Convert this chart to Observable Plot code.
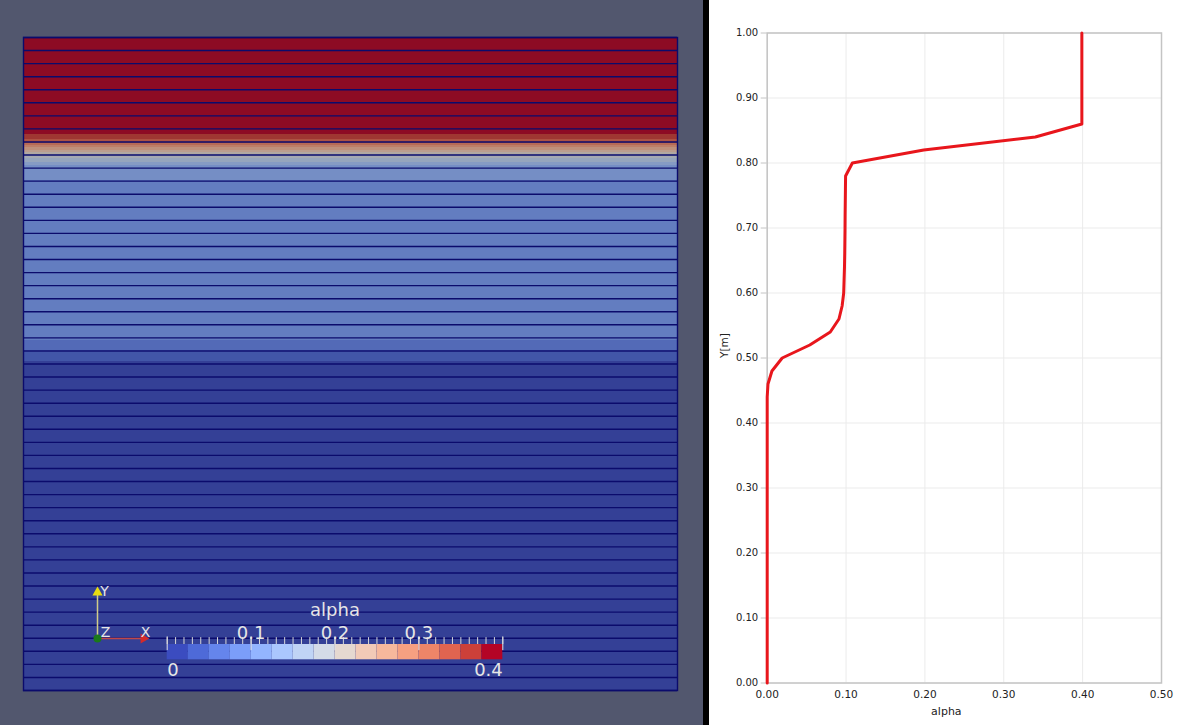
<!DOCTYPE html>
<html>
<head>
<meta charset="utf-8">
<script src="https://cdn.jsdelivr.net/npm/d3@7"></script>
<script src="https://cdn.jsdelivr.net/npm/@observablehq/plot@0.6"></script>
<style>
  html, body { margin: 0; padding: 0; background: #fff; }
  #root { position: relative; width: 1179px; height: 725px; overflow: hidden; }
  #left { position: absolute; left: 0; top: 0; width: 703px; height: 725px; background: #52576e; }
  #sep { position: absolute; left: 703px; top: 0; width: 6px; height: 725px; background: #000; }
  #right { position: absolute; left: 709px; top: 0; width: 470px; height: 725px; background: #fff; }
  .abs { position: absolute; }
  svg { display: block; }
</style>
</head>
<body>
<div id="root">
  <div id="left"></div>
  <div id="sep"></div>
  <div id="right"></div>
</div>
<script>
// ---------- data ----------
const yNodes = [
  0.00, 0.02, 0.04, 0.06, 0.08, 0.10, 0.12, 0.14, 0.16, 0.18,
  0.20, 0.22, 0.24, 0.26, 0.28, 0.30, 0.32, 0.34, 0.36, 0.38,
  0.40, 0.42, 0.44, 0.46, 0.48, 0.50, 0.52, 0.54, 0.56, 0.58,
  0.60, 0.62, 0.64, 0.66, 0.68, 0.70, 0.72, 0.74, 0.76, 0.78,
  0.80, 0.82, 0.84, 0.86, 0.88, 0.90, 0.92, 0.94, 0.96, 0.98, 1.00
];
const alphaValues = [
  0, 0, 0, 0, 0, 0, 0, 0, 0, 0,
  0, 0, 0, 0, 0, 0, 0, 0, 0, 0,
  0, 0, 0, 0.001, 0.006, 0.019, 0.054, 0.080, 0.091, 0.095,
  0.097, 0.0975, 0.098, 0.0983, 0.0985, 0.0987, 0.0988, 0.099, 0.0992, 0.0994,
  0.108, 0.1985, 0.340, 0.399, 0.399, 0.399, 0.399, 0.399, 0.399, 0.399, 0.399
];
const xTicks = [0, 0.1, 0.2, 0.3, 0.4, 0.5];
const yTicks = [0, 0.1, 0.2, 0.3, 0.4, 0.5, 0.6, 0.7, 0.8, 0.9, 1.0];
const colorDomain = [0, 0.4];
const colorBinCount = 16;
const colorTickLabels = [0.1, 0.2, 0.3];
const colorMinorStep = 0.01;
const triadAxes = [
  {name: "X", ux: 1, uy: 0},
  {name: "Y", ux: 0, uy: 1}
];

// ---------- styles ----------
const coolWarm = ["#3b4cc0","#4e6ad8","#6585ec","#7b9ef9","#93b5ff","#aac7fe","#c0d4f5","#d4dbe7",
                  "#e5d8d0","#f2cab7","#f7b89c","#f6a081","#ee8568","#e06450","#cc4039","#b40426"];
const shade = c => { const r = d3.rgb(c); return d3.rgb(r.r*0.74 + 8, r.g*0.74 + 8, r.b*0.74 + 8).formatHex(); };
const shaded = coolWarm.map(shade);
const binWidth = (colorDomain[1] - colorDomain[0]) / colorBinCount;
const thresholds = d3.range(1, colorBinCount).map(i => colorDomain[0] + i * binWidth);
const meshColor = "#0b0b6c";
const labelFont = "DejaVu Sans";
const pvText = "#e6e6e6";

const profile = yNodes.map((y, i) => ({y, alpha: alphaValues[i]}));
const alphaAt = d3.scaleLinear().domain(yNodes).range(alphaValues).clamp(true);

// ---------- left: rendered domain ----------
const leftPlot = Plot.plot({
  width: 703, height: 725,
  marginLeft: 23, marginRight: 26, marginTop: 37, marginBottom: 35,
  style: {background: "transparent"},
  x: {domain: [0, 1], axis: null},
  y: {domain: [0, 1], axis: null},
  color: {type: "threshold", domain: thresholds, range: shaded},
  marks: [
    Plot.raster({x1: 0, x2: 1, y1: 0, y2: 1, fill: (x, y) => alphaAt(y), imageRendering: "pixelated"}),
    Plot.ruleY(yNodes, {stroke: meshColor, strokeWidth: 1.4}),
    Plot.frame({stroke: meshColor, strokeWidth: 1.4})
  ]
});
document.getElementById("left").appendChild(leftPlot);

// ---------- colour bar ----------
const bins = d3.range(colorBinCount).map(i => ({x1: colorDomain[0] + i * binWidth, x2: colorDomain[0] + (i + 1) * binWidth}));
const minorTicks = d3.range(0, Math.round((colorDomain[1] - colorDomain[0]) / colorMinorStep) + 1).map(i => colorDomain[0] + i * colorMinorStep);
const majorTicks = [colorDomain[0], ...colorTickLabels, colorDomain[1]];
const fmt = d3.format("~g");
const cbar = Plot.plot({
  width: 410, height: 105,
  marginLeft: 36.7, marginRight: 37.7, marginTop: 59, marginBottom: 30.7,
  style: {background: "transparent", overflow: "visible"},
  x: {domain: colorDomain, axis: null},
  y: {domain: [0, 1], axis: null},
  color: {type: "threshold", domain: thresholds, range: coolWarm},
  marks: [
    Plot.rect(bins, {x1: "x1", x2: "x2", y1: 0, y2: 1, fill: d => (d.x1 + d.x2) / 2}),
    Plot.ruleX(minorTicks, {y1: 1, y2: 1.45, stroke: "#d8d8d8", strokeWidth: 1}),
    Plot.ruleX(majorTicks, {y1: 0.6, y2: 1.5, stroke: "#e0e0e0", strokeWidth: 1}),
    Plot.text(colorTickLabels, {x: d => d, y: 1, text: d => fmt(d), lineAnchor: "bottom", dy: -6, fill: pvText, fontSize: 18, fontFamily: labelFont}),
    Plot.text([colorDomain[0]], {x: d => d, y: 0, text: d => fmt(d), lineAnchor: "top", dy: 3, textAnchor: "start", fill: pvText, fontSize: 18, fontFamily: labelFont}),
    Plot.text([colorDomain[1]], {x: d => d, y: 0, text: d => fmt(d), lineAnchor: "top", dy: 3, textAnchor: "end", fill: pvText, fontSize: 18, fontFamily: labelFont}),
    Plot.text(["alpha"], {x: (colorDomain[0] + colorDomain[1]) / 2, y: 1, lineAnchor: "bottom", dy: -29, fill: pvText, fontSize: 18, fontFamily: labelFont})
  ]
});
cbar.classList.add("abs");
cbar.style.left = "130px"; cbar.style.top = "585px";
document.getElementById("root").appendChild(cbar);

// ---------- orientation triad ----------
const triadColors = {X: "#d42a2a", Y: "#e8dc10"};
const triadShaft = {X: "#c04848", Y: "#d0cc88"};
const triad = Plot.plot({
  width: 80, height: 70,
  marginLeft: 10, marginRight: 20, marginTop: 10, marginBottom: 10,
  style: {background: "transparent", overflow: "visible"},
  x: {domain: [0, 1], axis: null},
  y: {domain: [0, 1], axis: null},
  marks: [
    Plot.link(triadAxes, {x1: 0, y1: 0, x2: d => d.ux * 0.88, y2: d => d.uy * 0.88, stroke: d => triadShaft[d.name], strokeWidth: 1.5}),
    Plot.dot(triadAxes, {x: d => d.ux * 0.92, y: d => d.uy * 0.92, symbol: "triangle", r: 3.8,
      rotate: d => d.ux ? 90 : 0, fill: d => triadColors[d.name], stroke: "none"}),
    Plot.dot([0], {x: 0, y: 0, r: 4, fill: "#1a7a1a", stroke: "none"}),
    Plot.text(triadAxes.filter(d => d.ux), {x: d => d.ux, y: d => d.uy, text: "name", dx: -2, dy: -6, fill: pvText, fontSize: 14, fontFamily: labelFont}),
    Plot.text(triadAxes.filter(d => d.uy), {x: d => d.ux, y: d => d.uy, text: "name", dx: 7, dy: 3, fill: pvText, fontSize: 14, fontFamily: labelFont}),
    Plot.text(["Z"], {x: 0, y: 0, dx: 8, dy: -6, fill: pvText, fontSize: 14, fontFamily: labelFont})
  ]
});
triad.classList.add("abs");
triad.style.left = "87px"; triad.style.top = "578px";
document.getElementById("root").appendChild(triad);

// ---------- right: line plot ----------
const rightPlot = Plot.plot({
  width: 470, height: 725,
  marginLeft: 57.7, marginRight: 18, marginTop: 32.5, marginBottom: 42.5,
  style: {background: "transparent", fontFamily: labelFont, fontSize: "10px", color: "#222"},
  x: {domain: [0, 0.5]},
  y: {domain: [0, 1]},
  marks: [
    Plot.gridX(xTicks, {stroke: "#ebebeb", strokeOpacity: 1}),
    Plot.gridY(yTicks, {stroke: "#ebebeb", strokeOpacity: 1}),
    Plot.frame({stroke: "#c4c4c4", strokeWidth: 1.5}),
    Plot.axisX(xTicks, {tickFormat: ".2f", tickSize: 0, tickPadding: 8, label: null, fill: "#222", fontSize: 10.5}),
    Plot.axisY(yTicks, {tickFormat: ".2f", tickSize: 6, tickPadding: 3, label: null, stroke: "#c4c4c4", fill: "#222"}),
    Plot.line(profile, {x: "alpha", y: "y", stroke: "#e8161c", strokeWidth: 3}),
    Plot.text(["alpha"], {frameAnchor: "bottom", dy: 31.5, dx: -18, fontSize: 11, fill: "#222"}),
    Plot.text(["Y[m]"], {frameAnchor: "left", rotate: -90, dx: -43, fontSize: 10.5, fill: "#222"})
  ]
});
document.getElementById("right").appendChild(rightPlot);
</script>
</body>
</html>
